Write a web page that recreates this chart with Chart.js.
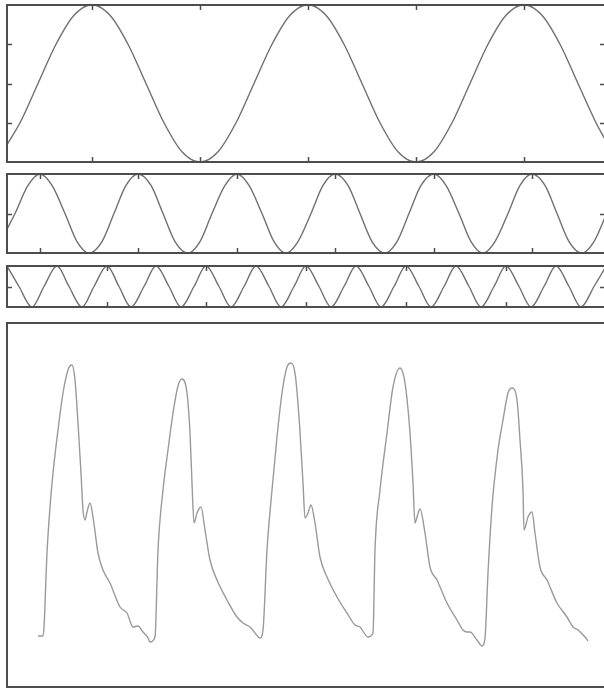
<!DOCTYPE html>
<html>
<head>
<meta charset="utf-8">
<script src="https://cdn.jsdelivr.net/npm/chart.js@4/dist/chart.umd.min.js"></script>
<style>
  html, body { margin: 0; padding: 0; background: #ffffff; }
  body { width: 604px; height: 690px; overflow: hidden; position: relative; }
  canvas { position: absolute; left: 6px; }
  #c1 { top: 4px; }
  #c2 { top: 173px; }
  #c3 { top: 265px; }
  #c4 { top: 322px; }
</style>
</head>
<body>
<canvas id="c1" width="600" height="159"></canvas>
<canvas id="c2" width="600" height="81"></canvas>
<canvas id="c3" width="600" height="43"></canvas>
<canvas id="c4" width="600" height="366"></canvas>
<script>
// Sample index along the record (shared horizontal extent of all four traces)
const sampleRange = [0, 598];

// Slow oscillation: [sample, normalised amplitude]
const slowWave = [
  [0,-0.78],[13,-0.5],[31,0],[49,0.5],[67,0.87],[85,1],[103,0.87],[121,0.5],[139,0],[157,-0.5],
  [175,-0.87],[193,-1],[211,-0.87],[229,-0.5],[247,0],[265,0.5],[283,0.87],[301,1],[319,0.87],
  [337,0.5],[355,0],[373,-0.5],[391,-0.87],[409,-1],[427,-0.87],[445,-0.5],[463,0],[481,0.5],
  [499,0.87],[517,1],[535,0.87],[553,0.5],[571,0],[589,-0.5],[598,-0.71]
];
const slowXTicks = [85, 193, 301, 409, 517];
const slowYTicks = [-0.5, 0, 0.5];

// Middle oscillation
const midWave = [
  [0,-0.4],[8,0],[21,0.71],[33,1],[45,0.71],[58,0],[70,-0.71],[82,-1],[95,-0.71],[107,0],
  [119,0.71],[131,1],[144,0.71],[156,0],[168,-0.71],[181,-1],[193,-0.71],[205,0],[218,0.71],
  [230,1],[242,0.71],[255,0],[267,-0.71],[279,-1],[291,-0.71],[304,0],[316,0.71],[328,1],
  [341,0.71],[353,0],[365,-0.71],[378,-1],[390,-0.71],[402,0],[414,0.71],[427,1],[439,0.71],
  [452,0],[464,-0.71],[476,-1],[488,-0.71],[501,0],[513,0.71],[525,1],[538,0.71],[550,0],
  [562,-0.71],[575,-1],[587,-0.71],[598,-0.1]
];
const midXTicks = [33, 131, 230, 328, 427, 525];
const midYTicks = [0];

// Fast oscillation
const fastWave = [
  [0,1],[12,0],[25,-1],[37,0],[50,1],[62,0],[75,-1],[87,0],[100,1],[112,0],[124,-1],[137,0],
  [149,1],[162,0],[174,-1],[187,0],[199,1],[212,0],[224,-1],[237,0],[249,1],[262,0],[274,-1],
  [287,0],[299,1],[312,0],[324,-1],[337,0],[349,1],[362,0],[374,-1],[387,0],[399,1],[412,0],
  [424,-1],[437,0],[449,1],[462,0],[474,-1],[487,0],[499,1],[512,0],[524,-1],[537,0],[549,1],
  [562,0],[574,-1],[587,0],[598,0.9]
];
const fastXTicks = [100, 199, 299, 399, 499];
const fastYTicks = [0];

// Pulse waveform: [sample, amplitude]
const pulseWave = [
  [31,51],[36,51],[37,60],[40,134],[43,180],[46,214],[51,257],[56,294],[61,317],[65,322],
  [68,307],[71,264],[74,214],[76,177],[78,167],[80,175],[83,184],[86,170],[91,134],[96,117],
  [103,104],[113,80],[120,74],[126,60],[131,61],[136,55],[141,49],[143,45],
  [148,50],[151,137],[156,197],[161,237],[166,274],[171,301],[175,308],[180,294],[183,254],
  [185,204],[187,164],[190,174],[194,180],[198,157],[203,127],[210,107],[220,87],[230,70],
  [236,64],[243,60],[248,54],[253,49],
  [256,57],[260,137],[265,197],[270,250],[275,294],[280,320],[284,324],[288,314],[292,270],
  [296,204],[298,169],[301,174],[304,182],[308,164],[313,130],[320,110],[330,90],[340,74],
  [348,62],[353,60],[361,50],
  [366,54],[368,137],[373,197],[380,254],[386,300],[393,319],[398,304],[403,254],[406,204],
  [408,164],[410,170],[413,178],[418,154],[423,120],[430,107],[440,84],[450,67],[456,57],
  [460,55],[463,55],[470,47],[475,41],
  [478,49],[481,114],[485,180],[491,237],[496,267],[501,294],[505,299],[510,287],[513,247],
  [516,197],[517,157],[521,170],[525,175],[528,154],[533,120],[540,107],[550,84],[560,70],
  [566,60],[571,57],[578,50],[581,46]
];
const pulseRange = [0, 364];

// Frame around the plot area with short inward tick marks on all four sides
const framePlugin = {
  id: 'frame',
  afterDraw(chart, args, opts) {
    const { ctx, chartArea: a, scales } = chart;
    ctx.save();
    ctx.strokeStyle = opts.color;
    ctx.lineWidth = opts.width;
    ctx.lineCap = 'butt';
    const len = 5;
    ctx.beginPath();
    (opts.xTicks || []).forEach(v => {
      const px = Math.round(scales.x.getPixelForValue(v)) + 0.5;
      ctx.moveTo(px, a.bottom); ctx.lineTo(px, a.bottom - len);
      ctx.moveTo(px, a.top); ctx.lineTo(px, a.top + len);
    });
    (opts.yTicks || []).forEach(v => {
      const py = Math.round(scales.y.getPixelForValue(v)) + 0.5;
      ctx.moveTo(a.left, py); ctx.lineTo(a.left + len, py);
      ctx.moveTo(a.right, py); ctx.lineTo(a.right - len, py);
    });
    ctx.lineWidth = 1.5;
    ctx.stroke();
    ctx.lineWidth = opts.width;
    ctx.strokeRect(a.left, a.top, a.right - a.left, a.bottom - a.top);
    ctx.restore();
  }
};

function makePanel(id, points, yMin, yMax, xTicks, yTicks, lineColor) {
  new Chart(document.getElementById(id), {
    type: 'line',
    data: {
      datasets: [{
        data: points.map(p => ({ x: p[0], y: p[1] })),
        borderColor: lineColor,
        borderWidth: 1.4,
        pointRadius: 0,
        fill: false,
        cubicInterpolationMode: 'monotone'
      }]
    },
    options: {
      responsive: false,
      animation: false,
      events: [],
      layout: { padding: 1 },
      scales: {
        x: { type: 'linear', min: sampleRange[0], max: sampleRange[1], display: false },
        y: { type: 'linear', min: yMin, max: yMax, display: false }
      },
      plugins: {
        legend: { display: false },
        tooltip: { enabled: false },
        frame: { color: '#4d4d4d', width: 2, xTicks: xTicks, yTicks: yTicks }
      }
    },
    plugins: [framePlugin]
  });
}

makePanel('c1', slowWave, -1, 1, slowXTicks, slowYTicks, '#707070');
makePanel('c2', midWave, -1, 1, midXTicks, midYTicks, '#707070');
makePanel('c3', fastWave, -1, 1, fastXTicks, fastYTicks, '#707070');
makePanel('c4', pulseWave, pulseRange[0], pulseRange[1], [], [], '#9a9a9a');
</script>
</body>
</html>
